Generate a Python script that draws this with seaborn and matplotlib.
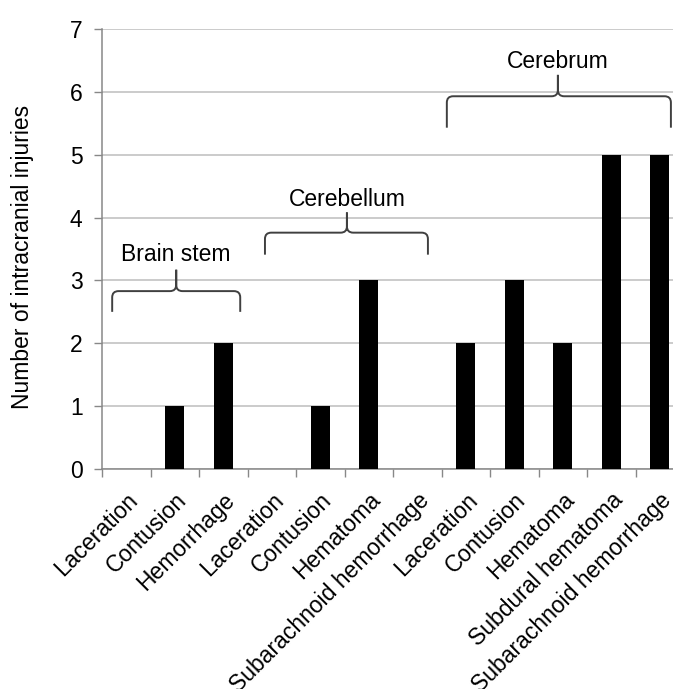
import numpy as np
import pandas as pd
import matplotlib
matplotlib.use("Agg")
import matplotlib.pyplot as plt
import matplotlib.transforms as mtransforms
import seaborn as sns
from matplotlib.path import Path
from matplotlib.patches import PathPatch

# ---- data ----
categories = ["Laceration", "Contusion", "Hemorrhage",
              "Laceration", "Contusion", "Hematoma", "Subarachnoid hemorrhage",
              "Laceration", "Contusion", "Hematoma", "Subdural hematoma",
              "Subarachnoid hemorrhage"]
regions = ["Brain stem"] * 3 + ["Cerebellum"] * 4 + ["Cerebrum"] * 5
counts = [0, 1, 2, 0, 1, 3, 0, 2, 3, 2, 5, 5]
group_names = ["Brain stem", "Cerebellum", "Cerebrum"]
y_label = "Number of intracranial injuries"

# ---- layout for braces (data coords): x0, x1, xm, y_tip, y_bar, y_peak, y_text ----
brace_layout = [
    (-0.29, 2.35, 1.03, 2.50, 2.83, 3.17, 3.41),
    (2.86, 6.22, 4.55, 3.41, 3.76, 4.08, 4.28),
    (6.61, 11.23, 8.90, 5.43, 5.93, 6.27, 6.48),
]

FS = 16.5

sns.set_theme(style="white")
plt.rcParams["font.family"] = ["Liberation Sans", "DejaVu Sans"]

df = pd.DataFrame({
    "key": [f"{r}|{c}" for r, c in zip(regions, categories)],
    "label": categories,
    "count": counts,
})

fig = plt.figure(figsize=(6.73, 6.89), dpi=100)
ax = fig.add_axes([102 / 673, (689 - 469) / 689, 582 / 673, 440 / 689])

sns.barplot(data=df, x="key", y="count", order=df["key"].tolist(),
            color="black", width=0.4, edgecolor="none", saturation=1,
            ax=ax, zorder=3)

ax.set_xlim(-0.5, len(counts) - 0.5)
ax.set_ylim(0, 7)
ax.set_yticks(range(0, 8))
ax.set_xticks(range(len(counts)))
ax.set_xticklabels(categories, rotation=45, ha="right", va="top",
                   rotation_mode="anchor", fontsize=FS, color="black")
offset = mtransforms.ScaledTranslation(-2 / 100, 0, fig.dpi_scale_trans)
for lab in ax.get_xticklabels():
    lab.set_transform(lab.get_transform() + offset)
ax.set_xticks(np.arange(-0.5, len(counts), 1.0), minor=True)
ax.tick_params(axis="x", which="major", length=0, pad=14)
ax.tick_params(axis="x", which="minor", length=6, width=1, color="#888888",
               direction="out", bottom=True)
ax.tick_params(axis="y", length=6, width=1, color="#888888", direction="out",
               left=True, labelsize=FS, labelcolor="black", pad=8)

ax.set_xlabel("")
ax.set_ylabel(y_label, fontsize=FS, color="black")
ax.yaxis.set_label_coords((34 - 102) / 582, 0.483)

ax.yaxis.grid(True, color="#bdbdbd", linewidth=1.1, zorder=0)
ax.xaxis.grid(False)
ax.set_axisbelow(True)
for s in ["top", "right"]:
    ax.spines[s].set_visible(False)
for s in ["left", "bottom"]:
    ax.spines[s].set_color("#888888")
    ax.spines[s].set_linewidth(1.1)

rx, ry = 0.13, 0.10
for name, (x0, x1, xm, yt, yb, yp, ytext) in zip(group_names, brace_layout):
    verts = [
        (x0, yt), (x0, yb - ry), (x0, yb), (x0 + rx, yb),
        (xm - rx, yb), (xm, yb), (xm, yb + ry), (xm, yp),
        (xm, yb + ry), (xm, yb), (xm + rx, yb),
        (x1 - rx, yb), (x1, yb), (x1, yb - ry), (x1, yt),
    ]
    codes = [
        Path.MOVETO, Path.LINETO, Path.CURVE3, Path.CURVE3,
        Path.LINETO, Path.CURVE3, Path.CURVE3, Path.LINETO,
        Path.LINETO, Path.CURVE3, Path.CURVE3,
        Path.LINETO, Path.CURVE3, Path.CURVE3, Path.LINETO,
    ]
    ax.add_patch(PathPatch(Path(verts, codes), facecolor="none",
                           edgecolor="#404040", linewidth=1.4, zorder=4,
                           clip_on=False))
    ax.text(xm, ytext, name, ha="center", va="center", fontsize=FS,
            color="black", zorder=5)

fig.savefig("out.png", dpi=100, facecolor="white")
